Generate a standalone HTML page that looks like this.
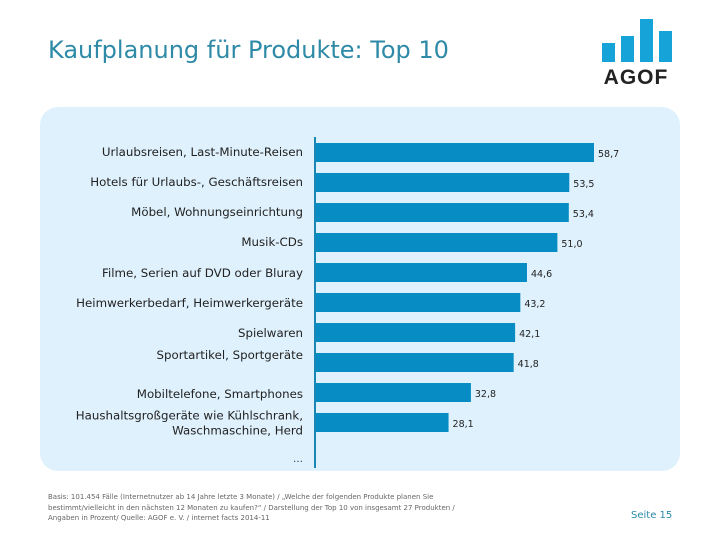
<!DOCTYPE html>
<html><head><meta charset="utf-8"><style>
body{margin:0;width:720px;height:540px;background:#fff;position:relative;overflow:hidden;font-family:"DejaVu Sans","Liberation Sans",sans-serif}
.t{position:absolute}
</style></head><body>
<div class="t" style="left:48px;top:36px;font-size:24px;color:#2e8aa6;white-space:nowrap;">Kaufplanung für Produkte: Top 10</div>
<svg class="t" style="left:0;top:0" width="720" height="100">
<rect x="602" y="43" width="13" height="19" fill="#15a3d8"/>
<rect x="621" y="36" width="13" height="26" fill="#15a3d8"/>
<rect x="640" y="19" width="13" height="43" fill="#15a3d8"/>
<rect x="659" y="31" width="13" height="31" fill="#15a3d8"/>
<text x="636" y="84" text-anchor="middle" font-size="21" font-weight="bold" fill="#222" font-family="Liberation Sans, sans-serif" letter-spacing="1">AGOF</text>
</svg>
<svg id="chart" class="t" style="left:0;top:0" width="720" height="480">
<rect x="40" y="107" width="640" height="364" rx="18" fill="#dff1fc"/>
</svg>
<div class="t" style="left:48px;top:492px;font-size:7px;line-height:10.5px;color:#666;white-space:nowrap;">Basis: 101.454 Fälle (Internetnutzer ab 14 Jahre letzte 3 Monate) / „Welche der folgenden Produkte planen Sie<br>bestimmt/vielleicht in den nächsten 12 Monaten zu kaufen?“ / Darstellung der Top 10 von insgesamt 27 Produkten /<br>Angaben in Prozent/ Quelle: AGOF e. V. / internet facts 2014-11</div>
<div class="t" style="left:631px;top:510px;font-size:10px;color:#2a8aa8;">Seite 15</div>
<script>
const categories=[["Urlaubsreisen, Last-Minute-Reisen"],["Hotels für Urlaubs-, Geschäftsreisen"],["Möbel, Wohnungseinrichtung"],["Musik-CDs"],["Filme, Serien auf DVD oder Bluray"],["Heimwerkerbedarf, Heimwerkergeräte"],["Spielwaren"],["Sportartikel, Sportgeräte"],["Mobiltelefone, Smartphones"],["Haushaltsgroßgeräte wie Kühlschrank,","Waschmaschine, Herd"]];
const values=[58.7,53.5,53.4,51.0,44.6,43.2,42.1,41.8,32.8,28.1];
const labelOffsets=[-1,-1,-1,-1,0,0,0,-8,1,0];
const svg=document.getElementById('chart');
const NS='http://www.w3.org/2000/svg';
const x0=315,scale=279/58.7;
const xs=v=>x0+v*scale;
const yb=i=>143+i*30;
function mk(tag,attrs){const e=document.createElementNS(NS,tag);for(const k in attrs)e.setAttribute(k,attrs[k]);svg.appendChild(e);return e;}
values.forEach((v,i)=>{
 const b=mk('rect',{x:x0,y:yb(i),width:xs(v)-x0,height:19,fill:'#078dc4'});
 
 
 const t=mk('text',{x:xs(v)+4,y:yb(i)+14,'font-size':9.5,fill:'#222'});
 t.textContent=v.toFixed(1).replace('.',',');
 
 
 const lines=categories[i];
 lines.forEach((ln,j)=>{
  const cy=yb(i)+10+labelOffsets[i]+(lines.length>1?(j-0.5)*15:0);
  const l=mk('text',{x:303,y:cy+4,'text-anchor':'end','font-size':11.8,fill:'#222'});
  l.textContent=ln;
  
  
 });
});
const dots=mk('text',{x:303,y:462,'text-anchor':'end','font-size':10,fill:'#333'});
dots.textContent='…';


const ax=mk('line',{x1:x0,x2:x0,y1:137,y2:468,stroke:'#1a86b3','stroke-width':2});


</script>
</body></html>
